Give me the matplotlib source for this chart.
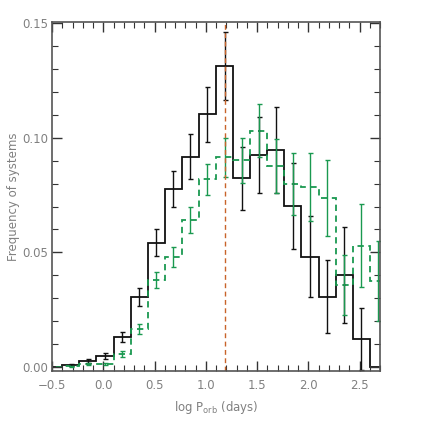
import numpy as np
import matplotlib
matplotlib.use("Agg")
import matplotlib.pyplot as plt
from matplotlib.ticker import MultipleLocator

# histogram bins in log P_orb (days)
bin_start = -0.4
bin_width = 1.0 / 6.0

# black (solid) histogram and its errors
black_freq = [0.0008, 0.0025, 0.0047, 0.0131, 0.0306, 0.0542, 0.0776, 0.0917, 0.1104,
              0.1314, 0.0823, 0.0925, 0.0947, 0.0702, 0.0481, 0.0306, 0.0401, 0.0120]
black_err = [0.0004, 0.0010, 0.0012, 0.0023, 0.0039, 0.0058, 0.0079, 0.0098, 0.0120,
             0.0150, 0.0137, 0.0165, 0.0186, 0.0187, 0.0176, 0.0160, 0.0210, 0.0135]

# green (dashed) histogram and its errors
green_freq = [0.0003, 0.0012, 0.0012, 0.0055, 0.0166, 0.0379, 0.0481, 0.0641, 0.0819,
              0.0915, 0.0903, 0.1031, 0.0877, 0.0797, 0.0786, 0.0738, 0.0357, 0.0529, 0.0374]
green_err = [0.0002, 0.0006, 0.0005, 0.0012, 0.0022, 0.0033, 0.0044, 0.0055, 0.0069,
             0.0084, 0.0098, 0.0116, 0.0120, 0.0135, 0.0148, 0.0165, 0.0130, 0.0180, 0.0175]

# marked period
p_mark = 1.184

black_col = "#111111"
green_col = "#1a9950"
orange_col = "#c8642a"
text_col = "#808080"

fig = plt.figure(figsize=(4.36, 4.36), dpi=100)
ax = fig.add_axes([0.1193, 0.1498, 0.7523, 0.7997])


def draw_hist(freq, err, color, ls):
    n = len(freq)
    edges = bin_start + bin_width * np.arange(-1, n + 2)
    vals = np.concatenate([[0.0], freq, [0.0]])
    ax.stairs(vals, edges, baseline=None, color=color, lw=1.3, ls=ls)
    centers = bin_start + bin_width * (np.arange(n) + 0.5)
    ax.errorbar(centers, freq, yerr=err, fmt="none", ecolor=color,
                elinewidth=1.0, capsize=1.8, capthick=1.0)


draw_hist(black_freq, black_err, black_col, "-")
draw_hist(green_freq, green_err, green_col, (0, (3.5, 2.5)))

ax.axvline(p_mark, color=orange_col, lw=1.0, ls=(0, (3.5, 2.5)))

ax.set_xlim(-0.5, 2.7)
ax.set_ylim(-0.0017, 0.1506)
ax.xaxis.set_minor_locator(MultipleLocator(0.1))
ax.yaxis.set_minor_locator(MultipleLocator(0.01))
ax.set_xticks(np.arange(-0.5, 2.51, 0.5))
ax.set_xticklabels(["\u22120.5", "0.0", "0.5", "1.0", "1.5", "2.0", "2.5"])
ax.set_yticks([0.0, 0.05, 0.10, 0.15])
ax.set_yticklabels(["0.00", "0.05", "0.10", "0.15"])

ax.tick_params(which="both", direction="in", top=True, right=True,
               colors="#333333", labelcolor=text_col, labelsize=8.5)
ax.tick_params(which="major", length=7, width=1.0)
ax.tick_params(which="minor", length=4, width=0.8)
ax.tick_params(axis="x", which="major", pad=6)
ax.tick_params(axis="y", which="major", pad=3)
for s in ax.spines.values():
    s.set_color("#555555")
    s.set_linewidth(1.2)

ax.set_xlabel(r"log P$_{\rm orb}$ (days)", color=text_col, fontsize=8.5, labelpad=5)
ax.set_ylabel("Frequency of systems", color=text_col, fontsize=8.5, labelpad=1)

fig.savefig("out.png", dpi=100)
